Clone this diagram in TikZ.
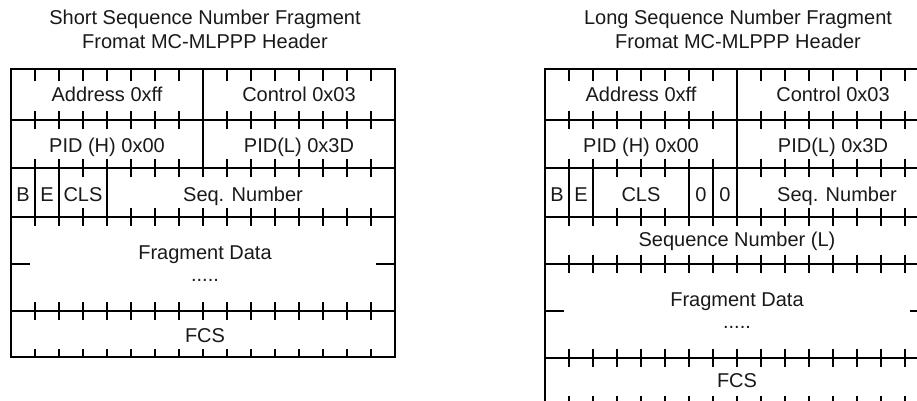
\documentclass[tikz,border=0pt]{standalone}
\usepackage{fontspec}
\setmainfont{Liberation Sans}

\begin{document}
\begin{tikzpicture}[x=1pt, y=-1pt,
        frame/.style={line width=2.7pt},
        rule/.style={line width=2.4pt},
        tick/.style={line width=2pt},
        lbl/.style={font=\fontsize{20}{24}\selectfont, text=black!90, inner sep=0pt, text height=14pt, text depth=0pt},
        ttl/.style={font=\fontsize{20}{24}\selectfont, text=black!90, inner sep=0pt, align=center}]
        \clip (0,0) rectangle (917,400);
        \useasboundingbox (0,0) rectangle (917,400);

        % short sequence number header
        \node[ttl] (stitle) at (205,29) {Short Sequence Number Fragment\\Fromat MC-MLPPP Header};
        \begin{scope}[shift={(11,69)}]
            \draw[frame] (0,0) rectangle (384,288);
            \foreach \y in {51,99,148,242} {
                \draw[rule] (0,\y) -- (384,\y);
            }
            \draw[rule] (192,0) -- (192,99);
            \foreach \x in {24,48,96} {
                \draw[rule] (\x,99) -- (\x,148);
            }
            \foreach \i in {1,2,3,4,5,6,7,9,10,11,12,13,14,15} {
                \draw[tick] ({\i*24},0) -- ++(0,12);
                \draw[tick] ({\i*24},42) -- ++(0,18);
            }
            \foreach \i in {1,...,15} {
                \draw[tick] ({\i*24},90) -- ++(0,18);
                \draw[tick] ({\i*24},139) -- ++(0,18);
                \draw[tick] ({\i*24},233) -- ++(0,18);
                \draw[tick] ({\i*24},288) -- ++(0,-8);
            }
            \draw[rule] (0,195) -- (19,195);
            \draw[rule] (384,195) -- (365,195);

            \node[lbl] (saddr) at (96,25) {Address 0xff};
            \node[lbl] (sctrl) at (288,25) {Control 0x03};
            \node[lbl] (spidh) at (96,76) {PID (H) 0x00};
            \node[lbl] (spidl) at (288,76) {PID(L) 0x3D};
            \node[lbl] (sb) at (12,125) {B};
            \node[lbl] (se) at (36,125) {E};
            \node[lbl] (scls) at (72,125) {CLS};
            \node[lbl] (sseq) at (232,125) {Seq. Number};
            \node[lbl] (sfrag) at (194,183) {Fragment Data};
            \node[lbl] (sdots) at (194,205) {.....};
            \node[lbl] (sfcs) at (194,266) {FCS};
        \end{scope}

        % long sequence number header
        \node[ttl] (ltitle) at (738,29) {Long Sequence Number Fragment\\Fromat MC-MLPPP Header};
        \begin{scope}[shift={(545,69)}]
            \draw[frame] (0,0) rectangle (384,335);
            \foreach \y in {51,99,148,195,289} {
                \draw[rule] (0,\y) -- (384,\y);
            }
            \draw[rule] (192,0) -- (192,148);
            \foreach \x in {24,48,144,168} {
                \draw[rule] (\x,99) -- (\x,148);
            }
            \foreach \i in {1,2,3,4,5,6,7,9,10,11,12,13,14,15} {
                \draw[tick] ({\i*24},0) -- ++(0,12);
                \draw[tick] ({\i*24},42) -- ++(0,18);
                \draw[tick] ({\i*24},90) -- ++(0,18);
            }
            \foreach \i in {1,...,15} {
                \draw[tick] ({\i*24},139) -- ++(0,18);
                \draw[tick] ({\i*24},186) -- ++(0,18);
                \draw[tick] ({\i*24},280) -- ++(0,18);
                \draw[tick] ({\i*24},335) -- ++(0,-8);
            }
            \draw[rule] (0,242) -- (19,242);
            \draw[rule] (384,242) -- (365,242);

            \node[lbl] (laddr) at (96,25) {Address 0xff};
            \node[lbl] (lctrl) at (288,25) {Control 0x03};
            \node[lbl] (lpidh) at (96,76) {PID (H) 0x00};
            \node[lbl] (lpidl) at (288,76) {PID(L) 0x3D};
            \node[lbl] (lb) at (12,125) {B};
            \node[lbl] (le) at (36,125) {E};
            \node[lbl] (lcls) at (96,125) {CLS};
            \node[lbl] (lzeroa) at (156,125) {0};
            \node[lbl] (lzerob) at (180,125) {0};
            \node[lbl] (lseq) at (292,125) {Seq. Number};
            \node[lbl] (lseql) at (192,170) {Sequence Number (L)};
            \node[lbl] (lfrag) at (192,230) {Fragment Data};
            \node[lbl] (ldots) at (192,252) {.....};
            \node[lbl] (lfcs) at (192,311) {FCS};
        \end{scope}
    \end{tikzpicture}
\end{document}
